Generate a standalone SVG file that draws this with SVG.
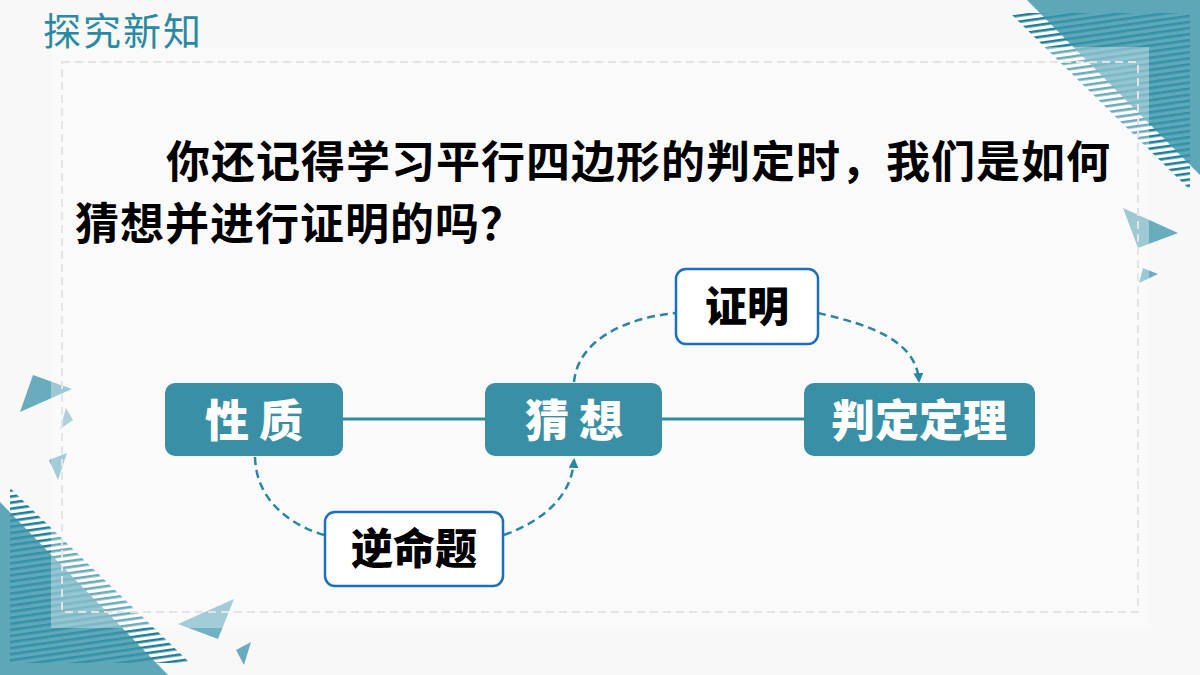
<svg xmlns="http://www.w3.org/2000/svg" width="1200" height="675" viewBox="0 0 1200 675">
<defs>
<style>
.title{font-family:"Noto Sans CJK SC","Noto Sans",sans-serif;font-size:38px;font-weight:400;fill:#2b8aa3;letter-spacing:2px}
.body{font-family:"Noto Sans CJK SC","Noto Sans",sans-serif;font-size:44px;font-weight:700;fill:#000;letter-spacing:1px}
.ntxt{font-family:"Noto Sans CJK SC","Noto Sans",sans-serif;font-size:44px;font-weight:900;fill:#fff;text-anchor:middle}
.btxt{font-family:"Noto Sans CJK SC","Noto Sans",sans-serif;font-size:42px;font-weight:900;fill:#000;text-anchor:middle}
.tnode{fill:#3990a6}
.wnode{fill:#fff;stroke:#1c6fbd;stroke-width:2.5}
.solid{stroke:#2f8aa1;stroke-width:3;fill:none}
.dash{stroke:#2a87a0;stroke-width:2.5;fill:none;stroke-dasharray:8 5}
.tri{fill:#4f9fb4}
</style>
<pattern id="stripes" width="60" height="6" patternUnits="userSpaceOnUse" patternTransform="rotate(-8)">
<rect x="0" y="0" width="60" height="2.6" fill="#1f7f98"/>
</pattern>
<marker id="arr" viewBox="0 0 10 10" refX="8" refY="5" markerWidth="4" markerHeight="4" orient="auto" markerUnits="strokeWidth">
<path d="M0,0 L10,5 L0,10 Z" fill="#2a87a0"/>
</marker>
</defs>
<rect width="1200" height="675" fill="#f8f8f8"/>
<g id="decor">
<polygon points="1010,13 1190,13 1190,190" fill="#fff"/>
<polygon points="1010,13 1190,13 1190,190" fill="url(#stripes)"/>
<polygon points="1027,0 1200,0 1200,175" fill="#3a95ab" opacity="0.82"/>
<polygon points="10,488 10,663 190,663" fill="#fff"/>
<polygon points="10,488 10,663 190,663" fill="url(#stripes)"/>
<polygon points="0,502 0,675 168,675" fill="#3a95ab" opacity="0.82"/>
<polygon class="tri" points="33,375 72,389 20,412" opacity="0.85"/>
<polygon class="tri" points="66,408 73,420 60,429" opacity="0.7"/>
<polygon class="tri" points="49,460 67,453 58,480" opacity="0.8"/>
<polygon class="tri" points="1123,208 1178,233 1138,248" opacity="0.85"/>
<polygon class="tri" points="1143,268 1158,274 1139,283" opacity="0.85"/>
<polygon class="tri" points="178,624 234,599 218,639" opacity="0.8"/>
<polygon class="tri" points="236,650 251,642 244,665" opacity="0.85"/>
</g>
<rect x="51" y="47" width="1098" height="581" fill="#fff" opacity="0.35"/>
<rect x="62" y="62" width="1076" height="550" fill="none" stroke="#e4e4e4" stroke-width="2" stroke-dasharray="8 5"/>
<text class="title" x="43" y="45">探究新知</text>
<text class="body" x="166" y="178">你还记得学习平行四边形的判定时，我们是如何</text>
<text class="body" x="75" y="240">猜想并进行证明的吗？</text>
<g id="connectors">
<line class="solid" x1="343" y1="419" x2="485" y2="419"/>
<line class="solid" x1="662" y1="419" x2="804" y2="419"/>
<path class="dash" d="M255,457 C256,500 290,525 324,535"/>
<path class="dash" d="M504,535 C545,520 572,495 574,460" marker-end="url(#arr)"/>
<path class="dash" d="M574,382 C578,340 625,318 676,313"/>
<path class="dash" d="M818,313 C870,325 916,340 919,381" marker-end="url(#arr)"/>
</g>
<g id="node-xingzhi">
<rect class="tnode" x="165" y="383" width="178" height="73" rx="10"/>
<text class="ntxt" x="254" y="437">性 质</text>
</g>
<g id="node-caixiang">
<rect class="tnode" x="485" y="383" width="177" height="73" rx="10"/>
<text class="ntxt" x="574" y="437">猜 想</text>
</g>
<g id="node-pandingdingli">
<rect class="tnode" x="804" y="383" width="231" height="73" rx="10"/>
<text class="ntxt" x="919" y="437">判定定理</text>
</g>
<g id="node-zhengming">
<rect class="wnode" x="676" y="269" width="142" height="75" rx="10"/>
<text class="btxt" x="747" y="322">证明</text>
</g>
<g id="node-nimingti">
<rect class="wnode" x="325" y="512" width="178" height="74" rx="10"/>
<text class="btxt" x="414" y="564">逆命题</text>
</g>
</svg>
